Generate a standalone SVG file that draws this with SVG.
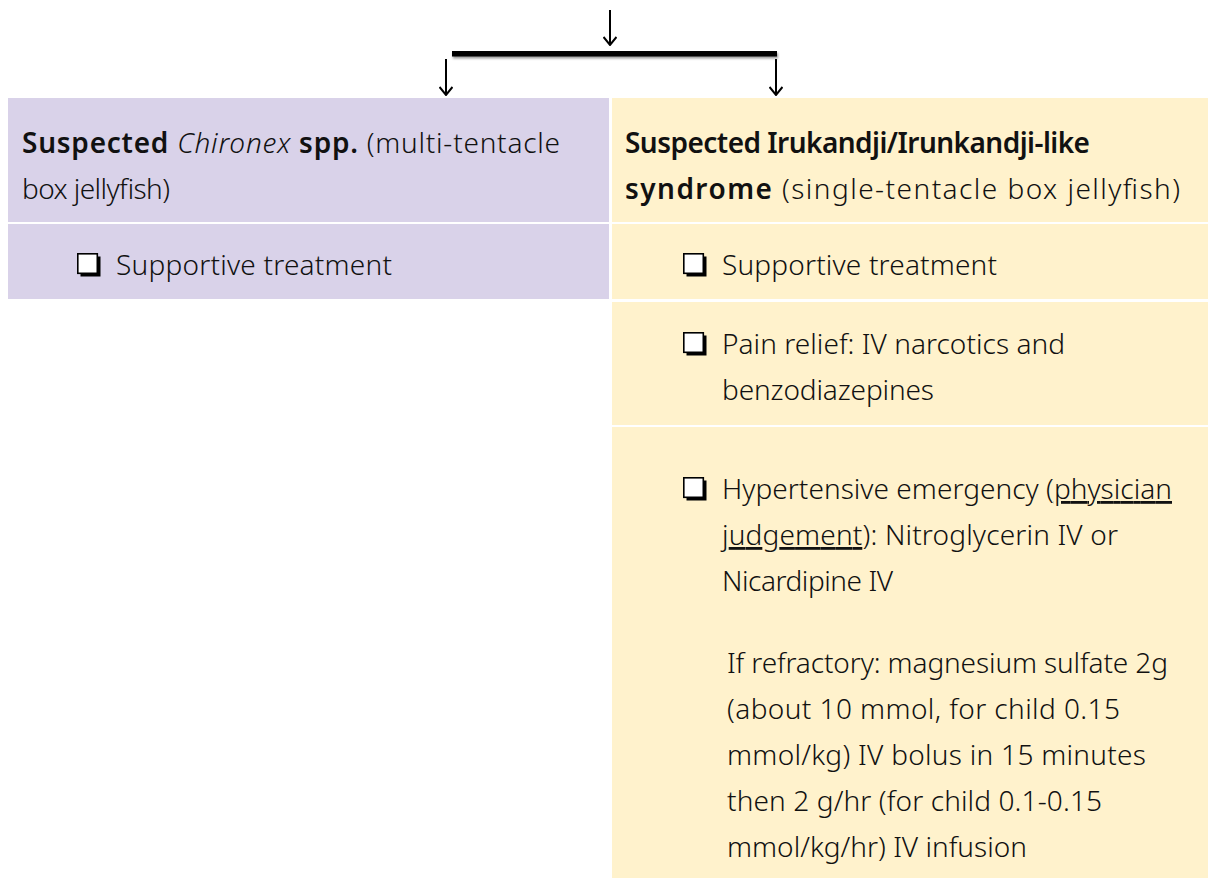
<svg xmlns="http://www.w3.org/2000/svg" width="1208" height="878" viewBox="0 0 1208 878">
<style>
.t{font-family:"Noto Sans","Open Sans",sans-serif;font-size:28px;font-weight:300;fill:#111}
.b{font-weight:600}
.purple{fill:#d9d2e9}
.yellow{fill:#fff2cc}
.arr{stroke:#000;stroke-width:2;fill:none}
</style>
<defs>
<marker id="ah" viewBox="0 0 10 14" refX="9" refY="7" markerWidth="10" markerHeight="14" markerUnits="userSpaceOnUse" orient="auto">
<path d="M1,0.5 L9,7 L1,13.5" fill="none" stroke="#000" stroke-width="2"/>
</marker>
<filter id="sh" x="-5%" y="-100%" width="110%" height="300%">
<feDropShadow dx="1" dy="2" stdDeviation="1.2" flood-color="#000" flood-opacity="0.4"/>
</filter>
<g id="chk">
<rect x="3.5" y="3.5" width="20" height="20" fill="#000"/>
<rect x="0.8" y="0.8" width="19.5" height="19.5" fill="#fff" stroke="#000" stroke-width="1.6"/>
</g>
</defs>
<rect width="1208" height="878" fill="#fff"/>
<g id="connectors">
<line class="arr" x1="610" y1="10" x2="610" y2="45" marker-end="url(#ah)"/>
<rect x="452" y="51" width="325" height="5.5" fill="#000" filter="url(#sh)"/>
<line class="arr" x1="446" y1="59" x2="446" y2="95" marker-end="url(#ah)"/>
<line class="arr" x1="776" y1="59" x2="776" y2="95" marker-end="url(#ah)"/>
</g>
<g id="chironex-header">
<rect class="purple" x="8" y="98" width="601" height="124"/>
<text class="t" x="22" y="153" textLength="538" lengthAdjust="spacing"><tspan class="b">Suspected </tspan><tspan font-style="italic">Chironex</tspan><tspan class="b"> spp.</tspan> (multi-tentacle</text>
<text class="t" x="22" y="199" textLength="148" lengthAdjust="spacing">box jellyfish)</text>
</g>
<g id="chironex-supportive">
<rect class="purple" x="8" y="224" width="601" height="75"/>
<use href="#chk" x="77" y="253"/>
<text class="t" x="116" y="275" textLength="276" lengthAdjust="spacing">Supportive treatment</text>
</g>
<g id="irukandji-header">
<rect class="yellow" x="612" y="98" width="596" height="124"/>
<text class="t" x="625" y="153" textLength="465" lengthAdjust="spacing"><tspan class="b">Suspected Irukandji/Irunkandji-like</tspan></text>
<text class="t" x="625" y="199" textLength="555" lengthAdjust="spacing"><tspan class="b">syndrome</tspan> (single-tentacle box jellyfish)</text>
</g>
<g id="irukandji-supportive">
<rect class="yellow" x="612" y="224" width="596" height="75"/>
<use href="#chk" x="683" y="253"/>
<text class="t" x="722" y="275" textLength="275" lengthAdjust="spacing">Supportive treatment</text>
</g>
<g id="irukandji-pain">
<rect class="yellow" x="612" y="302" width="596" height="123"/>
<use href="#chk" x="683" y="332"/>
<text class="t" x="722" y="354" textLength="343" lengthAdjust="spacing">Pain relief: IV narcotics and</text>
<text class="t" x="722" y="400" textLength="212" lengthAdjust="spacing">benzodiazepines</text>
</g>
<g id="irukandji-hypertension">
<rect class="yellow" x="612" y="427" width="596" height="451"/>
<use href="#chk" x="683" y="477"/>
<text class="t" x="722" y="499" textLength="450" lengthAdjust="spacing">Hypertensive emergency (<tspan text-decoration="underline">physician</tspan></text>
<text class="t" x="722" y="545" textLength="396" lengthAdjust="spacing"><tspan text-decoration="underline">judgement</tspan>):  Nitroglycerin IV or</text>
<text class="t" x="722" y="591" textLength="171" lengthAdjust="spacing">Nicardipine IV</text>
<text class="t" x="727" y="673" textLength="441" lengthAdjust="spacing">If refractory: magnesium sulfate 2g</text>
<text class="t" x="727" y="719" textLength="393" lengthAdjust="spacing">(about 10 mmol, for child 0.15</text>
<text class="t" x="727" y="765" textLength="419" lengthAdjust="spacing">mmol/kg) IV bolus in 15 minutes</text>
<text class="t" x="727" y="811" textLength="375" lengthAdjust="spacing">then 2 g/hr (for child 0.1-0.15</text>
<text class="t" x="727" y="857" textLength="300" lengthAdjust="spacing">mmol/kg/hr) IV infusion</text>
</g>
</svg>
